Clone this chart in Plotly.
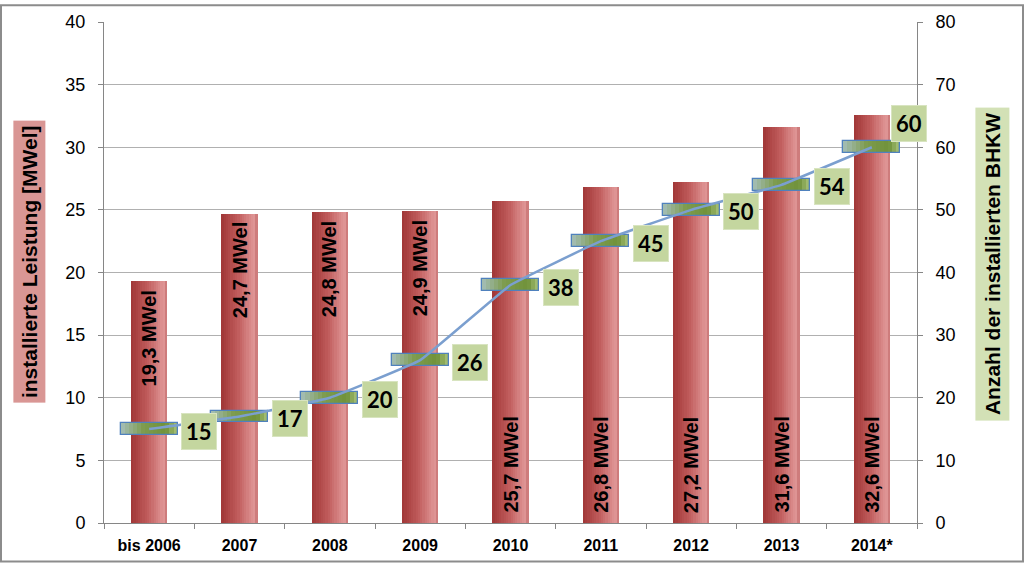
import plotly.graph_objects as go

categories = ["bis 2006", "2007", "2008", "2009", "2010", "2011", "2012", "2013", "2014*"]
leistung_mwel = [19.3, 24.7, 24.8, 24.9, 25.7, 26.8, 27.2, 31.6, 32.6]
leistung_labels = ["19,3 MWel", "24,7 MWel", "24,8 MWel", "24,9 MWel", "25,7 MWel",
                   "26,8 MWel", "27,2 MWel", "31,6 MWel", "32,6 MWel"]
anzahl_bhkw = [15, 17, 20, 26, 38, 45, 50, 54, 60]
left_ticks = [0, 5, 10, 15, 20, 25, 30, 35, 40]
right_ticks = [0, 10, 20, 30, 40, 50, 60, 70, 80]

W, H = 1024, 566
ML, MR, MT, MB = 104, 107, 18, 41
PW, PH = W - ML - MR, H - MT - MB


def lerp(c1, c2, t):
    return tuple(round(a + (b - a) * t) for a, b in zip(c1, c2))


def grad(stops, t):
    for i in range(len(stops) - 1):
        p0, c0 = stops[i]
        p1, c1 = stops[i + 1]
        if p0 <= t <= p1:
            return "rgb(%d,%d,%d)" % lerp(c0, c1, (t - p0) / (p1 - p0))
    return "rgb(%d,%d,%d)" % stops[-1][1]


fig = go.Figure()

# Main bars (horizontal gradient via overlapping slices)
bar_w = 0.40
n_sl = 16
red_stops = [(0.0, (160, 54, 54)), (0.45, (192, 92, 92)), (0.9, (224, 150, 150)), (1.0, (198, 112, 112))]
for i in range(n_sl):
    t = (i + 0.5) / n_sl
    fig.add_trace(go.Bar(
        x=categories, y=leistung_mwel, yaxis="y",
        width=bar_w - i * bar_w / n_sl, offset=-bar_w / 2 + i * bar_w / n_sl,
        marker=dict(color=grad(red_stops, t), line=dict(width=0)),
        showlegend=False, hoverinfo="skip"))

# Line for count
fig.add_trace(go.Scatter(
    x=categories, y=anzahl_bhkw, yaxis="y2", mode="lines",
    line=dict(color="#7b9fcf", width=2.5, shape="spline", smoothing=0.25),
    showlegend=False, hoverinfo="skip"))

# Rectangle markers (green gradient + blue border)
mk_w = 0.63
mk_h = 1.9
mk_base = [v - mk_h / 2 for v in anzahl_bhkw]
green_stops = [(0.0, (165, 190, 185)), (0.4, (125, 155, 78)), (0.8, (112, 146, 58)), (1.0, (170, 196, 122))]
n_g = 14
for i in range(n_g):
    t = (i + 0.5) / n_g
    fig.add_trace(go.Bar(
        x=categories, y=[mk_h] * len(categories), base=mk_base, yaxis="y2",
        width=mk_w - i * mk_w / n_g, offset=-mk_w / 2 + i * mk_w / n_g,
        marker=dict(color=grad(green_stops, t), line=dict(width=0)),
        showlegend=False, hoverinfo="skip"))
fig.add_trace(go.Bar(
    x=categories, y=[mk_h] * len(categories), base=mk_base, yaxis="y2",
    width=mk_w, offset=-mk_w / 2,
    marker=dict(color="rgba(0,0,0,0)", line=dict(width=1.3, color="#4f81bd")),
    showlegend=False, hoverinfo="skip"))

# Bar labels (vertical text inside bars)
for k, (v, lbl) in enumerate(zip(leistung_mwel, leistung_labels)):
    top = k < 4
    fig.add_annotation(
        x=k, y=v if top else 0, xref="x", yref="y", text="<b>%s</b>" % lbl,
        textangle=-90, showarrow=False, xanchor="center",
        yanchor="top" if top else "bottom", yshift=-7 if top else 8,
        font=dict(family="Liberation Sans", size=20, color="black"))

# Value labels for count
for k, v in enumerate(anzahl_bhkw):
    last = k == len(anzahl_bhkw) - 1
    fig.add_annotation(
        x=k, y=v, xref="x", yref="y2", text="<b>%d</b>" % v, showarrow=False,
        xanchor="center", yanchor="middle",
        xshift=50 if not last else 37, yshift=-2 if not last else 24,
        font=dict(family="Lato", size=22, color="black"),
        bgcolor="#c4d69f", bordercolor="#d8e4c0", borderwidth=1, borderpad=4)

# Axis titles
fig.add_annotation(
    x=(29 - ML) / PW, y=(H - MB - 261) / PH, xref="paper", yref="paper",
    xanchor="center", yanchor="middle",
    text="<b>installierte Leistung [MWel]</b>", textangle=-90, showarrow=False,
    font=dict(family="Liberation Sans", size=21, color="black"),
    bgcolor="#d99694", borderpad=4)
fig.add_annotation(
    x=(992 - ML) / PW, y=(H - MB - 263) / PH, xref="paper", yref="paper",
    xanchor="center", yanchor="middle",
    text="<b>Anzahl der installierten BHKW</b>", textangle=-90, showarrow=False,
    font=dict(family="Liberation Sans", size=21, color="black"),
    bgcolor="#d3e1b6", borderpad=5)

# Outer frame
fig.add_shape(type="rect", xref="paper", yref="paper",
              x0=(1 - ML) / PW, x1=(W - 1 - ML) / PW,
              y0=(H - MB - (H - 2)) / PH, y1=(H - MB - 1) / PH,
              line=dict(color="#8c8c8c", width=2), layer="below")

fig.update_layout(
    width=W, height=H, margin=dict(l=ML, r=MR, t=MT, b=MB),
    paper_bgcolor="white", plot_bgcolor="white", barmode="overlay",
    showlegend=False, bargap=0,
    xaxis=dict(type="category", tickson="boundaries", ticks="outside", ticklen=5,
               tickcolor="#868686", showline=True, linecolor="#868686", linewidth=1,
               showgrid=False, range=[-0.5, 8.5], ticklabelstandoff=8,
               tickfont=dict(family="Liberation Sans", size=16, color="black", weight="bold")),
    yaxis=dict(range=[0, 40], tickvals=left_ticks, ticks="outside", ticklen=5,
               tickcolor="#868686", showline=True, linecolor="#868686",
               showgrid=True, gridcolor="#b0b0b0", gridwidth=1, zeroline=False,
               ticklabelstandoff=9,
               tickfont=dict(family="Liberation Sans", size=18, color="black")),
    yaxis2=dict(range=[0, 80], tickvals=right_ticks, overlaying="y", side="right",
                ticks="outside", ticklen=5, tickcolor="#868686", showline=True,
                linecolor="#868686", showgrid=False, zeroline=False,
                ticklabelstandoff=9,
                tickfont=dict(family="Liberation Sans", size=18, color="black")),
)

fig.write_html("out.html")
